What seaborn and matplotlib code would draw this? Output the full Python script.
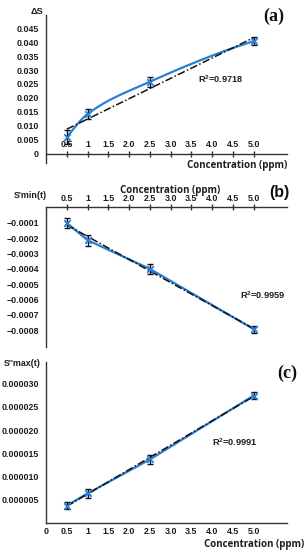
import numpy as np
import matplotlib
matplotlib.use("Agg")
import matplotlib.pyplot as plt
import seaborn as sns

# ---------------- data ----------------
conc = [0.5, 1.0, 2.5, 5.0]

ds_vals = [0.0058, 0.0142, 0.0258, 0.0404]
ds_err = [0.0025, 0.0019, 0.0018, 0.0014]

smin_vals = [-0.000100, -0.000213, -0.000400, -0.000793]
smin_err = [0.000033, 0.000035, 0.000031, 0.000022]

smax_vals = [3.8e-6, 6.4e-6, 13.7e-6, 27.4e-6]
smax_err = [0.75e-6, 0.9e-6, 1.0e-6, 0.8e-6]

x_ticks_ab = [0.5, 1.0, 1.5, 2.0, 2.5, 3.0, 3.5, 4.0, 4.5, 5.0]
x_labels_ab = ["0.5", "1", "1.5", "2.0", "2.5", "3.0", "3.5", "4.0", "4.5", "5.0"]
x_ticks_c = [0.0] + x_ticks_ab
x_labels_c = ["0"] + x_labels_ab

y_ticks_a = [0, 0.005, 0.010, 0.015, 0.020, 0.025, 0.030, 0.035, 0.040, 0.045]
y_labels_a = ["0", "0.005", "0.010", "0.015", "0.020", "0.025", "0.030", "0.035", "0.040", "0.045"]
y_ticks_b = [-0.0001, -0.0002, -0.0003, -0.0004, -0.0005, -0.0006, -0.0007, -0.0008]
y_labels_b = ["\u22120.0001", "\u22120.0002", "\u22120.0003", "\u22120.0004",
              "\u22120.0005", "\u22120.0006", "\u22120.0007", "\u22120.0008"]
y_ticks_c = [0.000005, 0.000010, 0.000015, 0.000020, 0.000025, 0.000030]
y_labels_c = ["0.000005", "0.000010", "0.000015", "0.000020", "0.000025", "0.000030"]

r2_texts = ["R$^2$=0.9718", "R$^2$=0.9959", "R$^2$=0.9991"]

# ---------------- style ----------------
sns.set_theme(style="white")
plt.rcParams["font.family"] = ["Liberation Sans", "DejaVu Sans"]
plt.rcParams["mathtext.default"] = "regular"

BLUE = "#2a80d6"
AXC = "#333333"
TXT = "#1e1e1e"
TICKFS = 6.4

W, H = 308, 550
fig = plt.figure(figsize=(W / 100, H / 100), dpi=100)


def ax_at(x0, y_top, x1, y_bot):
    return fig.add_axes([x0 / W, 1 - y_bot / H, (x1 - x0) / W, (y_bot - y_top) / H])


def ftext(x, y, s, **kw):
    fig.text(x / W, 1 - y / H, s, **kw)


def pchip(x, y, n=200):
    """Monotone piecewise cubic (Fritsch-Carlson) smoothing of the connecting line."""
    x = np.asarray(x, float)
    y = np.asarray(y, float)
    h = np.diff(x)
    delta = np.diff(y) / h
    k = len(x)
    m = np.zeros(k)
    for i in range(1, k - 1):
        if delta[i - 1] * delta[i] > 0:
            w1 = 2 * h[i] + h[i - 1]
            w2 = h[i] + 2 * h[i - 1]
            m[i] = (w1 + w2) / (w1 / delta[i - 1] + w2 / delta[i])
    def end(h0, h1, d0, d1):
        s = ((2 * h0 + h1) * d0 - h0 * d1) / (h0 + h1)
        if np.sign(s) != np.sign(d0):
            s = 0.0
        elif np.sign(d0) != np.sign(d1) and abs(s) > abs(3 * d0):
            s = 3 * d0
        return s
    m[0] = end(h[0], h[1], delta[0], delta[1])
    m[-1] = end(h[-1], h[-2], delta[-1], delta[-2])
    xs = np.linspace(x[0], x[-1], n)
    idx = np.clip(np.searchsorted(x, xs) - 1, 0, k - 2)
    t = (xs - x[idx]) / h[idx]
    h00 = 2 * t ** 3 - 3 * t ** 2 + 1
    h10 = t ** 3 - 2 * t ** 2 + t
    h01 = -2 * t ** 3 + 3 * t ** 2
    h11 = t ** 3 - t ** 2
    ys = h00 * y[idx] + h10 * h[idx] * m[idx] + h01 * y[idx + 1] + h11 * h[idx] * m[idx + 1]
    return xs, ys


def draw_series(ax, yv, ye, smooth):
    if smooth:
        xs, ys = pchip(conc, yv)
    else:
        xs, ys = np.asarray(conc), np.asarray(yv)
    sns.lineplot(x=xs, y=ys, ax=ax, color=BLUE, lw=1.6, sort=False, zorder=2)
    sns.regplot(x=np.asarray(conc), y=np.asarray(yv), ax=ax, scatter=False, ci=None,
                truncate=True,
                line_kws=dict(color="#111111", lw=1.1, ls=(0, (5, 1.5, 1, 1.5)), zorder=3))
    ax.errorbar(conc, yv, yerr=ye, fmt="none", ecolor="#111111", elinewidth=1.0,
                capsize=2.2, capthick=1.0, zorder=4)
    sns.scatterplot(x=conc, y=yv, ax=ax, marker="x", color=BLUE, s=22, linewidth=1.3,
                    zorder=5)
    ax.set_xlabel("")
    ax.set_ylabel("")


def style_common(ax):
    for s in ax.spines.values():
        s.set_color(AXC)
        s.set_linewidth(1.0)
    ax.set_facecolor("none")
    ax.grid(False)


tick_font = dict(fontsize=TICKFS, fontweight="bold", color=TXT)
conc_font = dict(fontsize=7.0, fontweight="bold", color=TXT, family="Open Sans")

# ---------------- (a) ----------------
ax1 = ax_at(46, 15, 287, 163)
draw_series(ax1, ds_vals, ds_err, smooth=True)
ax1.set_xlim(0, 5.8)
ax1.set_ylim(-0.0034, 0.0498)
style_common(ax1)
ax1.spines["right"].set_visible(False)
ax1.spines["bottom"].set_visible(False)
ax1.spines["top"].set_position(("data", 0))
ax1.xaxis.tick_top()
ax1.set_xticks(x_ticks_ab)
ax1.set_xticklabels(x_labels_ab, **tick_font)
ax1.set_yticks(y_ticks_a)
ax1.set_yticklabels(y_labels_a, **tick_font)
ax1.tick_params(axis="x", direction="inout", length=4, width=1, color=AXC, pad=1)
ax1.tick_params(axis="y", direction="inout", length=6, width=1, color=AXC, pad=2)
ax1.text(3.65, 0.0252, r2_texts[0], fontsize=6.6, fontweight="bold", color=TXT)

ftext(37, 11, "\u0394S", fontsize=6.6, fontweight="bold", color=TXT, ha="center", va="center")
ftext(274, 16, "(a)", fontsize=13, fontweight="bold", family="Liberation Serif",
      color="#111111", ha="center", va="center")
ftext(287, 166, "Concentration (ppm)", ha="right", va="center", **conc_font)

# ---------------- (b) ----------------
ax2 = ax_at(46, 207.5, 287, 346.7)
draw_series(ax2, smin_vals, smin_err, smooth=False)
ax2.set_xlim(0, 5.8)
ax2.set_ylim(-0.000907, 0)
style_common(ax2)
ax2.spines["right"].set_visible(False)
ax2.spines["bottom"].set_visible(False)
ax2.xaxis.tick_top()
ax2.set_xticks(x_ticks_ab)
ax2.set_xticklabels(x_labels_ab, **tick_font)
ax2.set_yticks(y_ticks_b)
ax2.set_yticklabels(y_labels_b, **tick_font)
ax2.tick_params(axis="x", direction="inout", length=4, width=1, color=AXC, pad=1)
ax2.tick_params(axis="y", direction="inout", length=6, width=1, color=AXC, pad=2)
ax2.text(4.67, -0.000595, r2_texts[1], fontsize=6.6, fontweight="bold", color=TXT)

ftext(30, 195, "S'min(t)", fontsize=6.4, fontweight="bold", color=TXT, ha="center", va="center")
ftext(279, 192, "(b)", fontsize=11.5, fontweight="bold", color="#111111", ha="center", va="center")
ftext(170, 190, "Concentration (ppm)", ha="center", va="center", **conc_font)

# ---------------- (c) ----------------
ax3 = ax_at(46, 362, 287, 523.3)
draw_series(ax3, smax_vals, smax_err, smooth=False)
ax3.set_xlim(0, 5.8)
ax3.set_ylim(0, 3.46e-5)
style_common(ax3)
ax3.spines["right"].set_visible(False)
ax3.spines["top"].set_visible(False)
ax3.set_xticks(x_ticks_c)
ax3.set_xticklabels(x_labels_c, **tick_font)
ax3.set_yticks(y_ticks_c)
ax3.set_yticklabels(y_labels_c, **tick_font)
ax3.tick_params(axis="x", direction="in", length=4, width=1, color=AXC, pad=3)
ax3.tick_params(axis="y", direction="inout", length=6, width=1, color=AXC, pad=2)
ax3.text(4.0, 1.65e-5, r2_texts[2], fontsize=6.6, fontweight="bold", color=TXT)

ftext(22, 364, "S''max(t)", fontsize=6.4, fontweight="bold", color=TXT, ha="center", va="center")
ftext(287, 373, "(c)", fontsize=13, fontweight="bold", family="Liberation Serif",
      color="#111111", ha="center", va="center")
ftext(304, 544, "Concentration (ppm)", ha="right", va="center", **conc_font)

fig.savefig("out.png", dpi=100, facecolor="white")
